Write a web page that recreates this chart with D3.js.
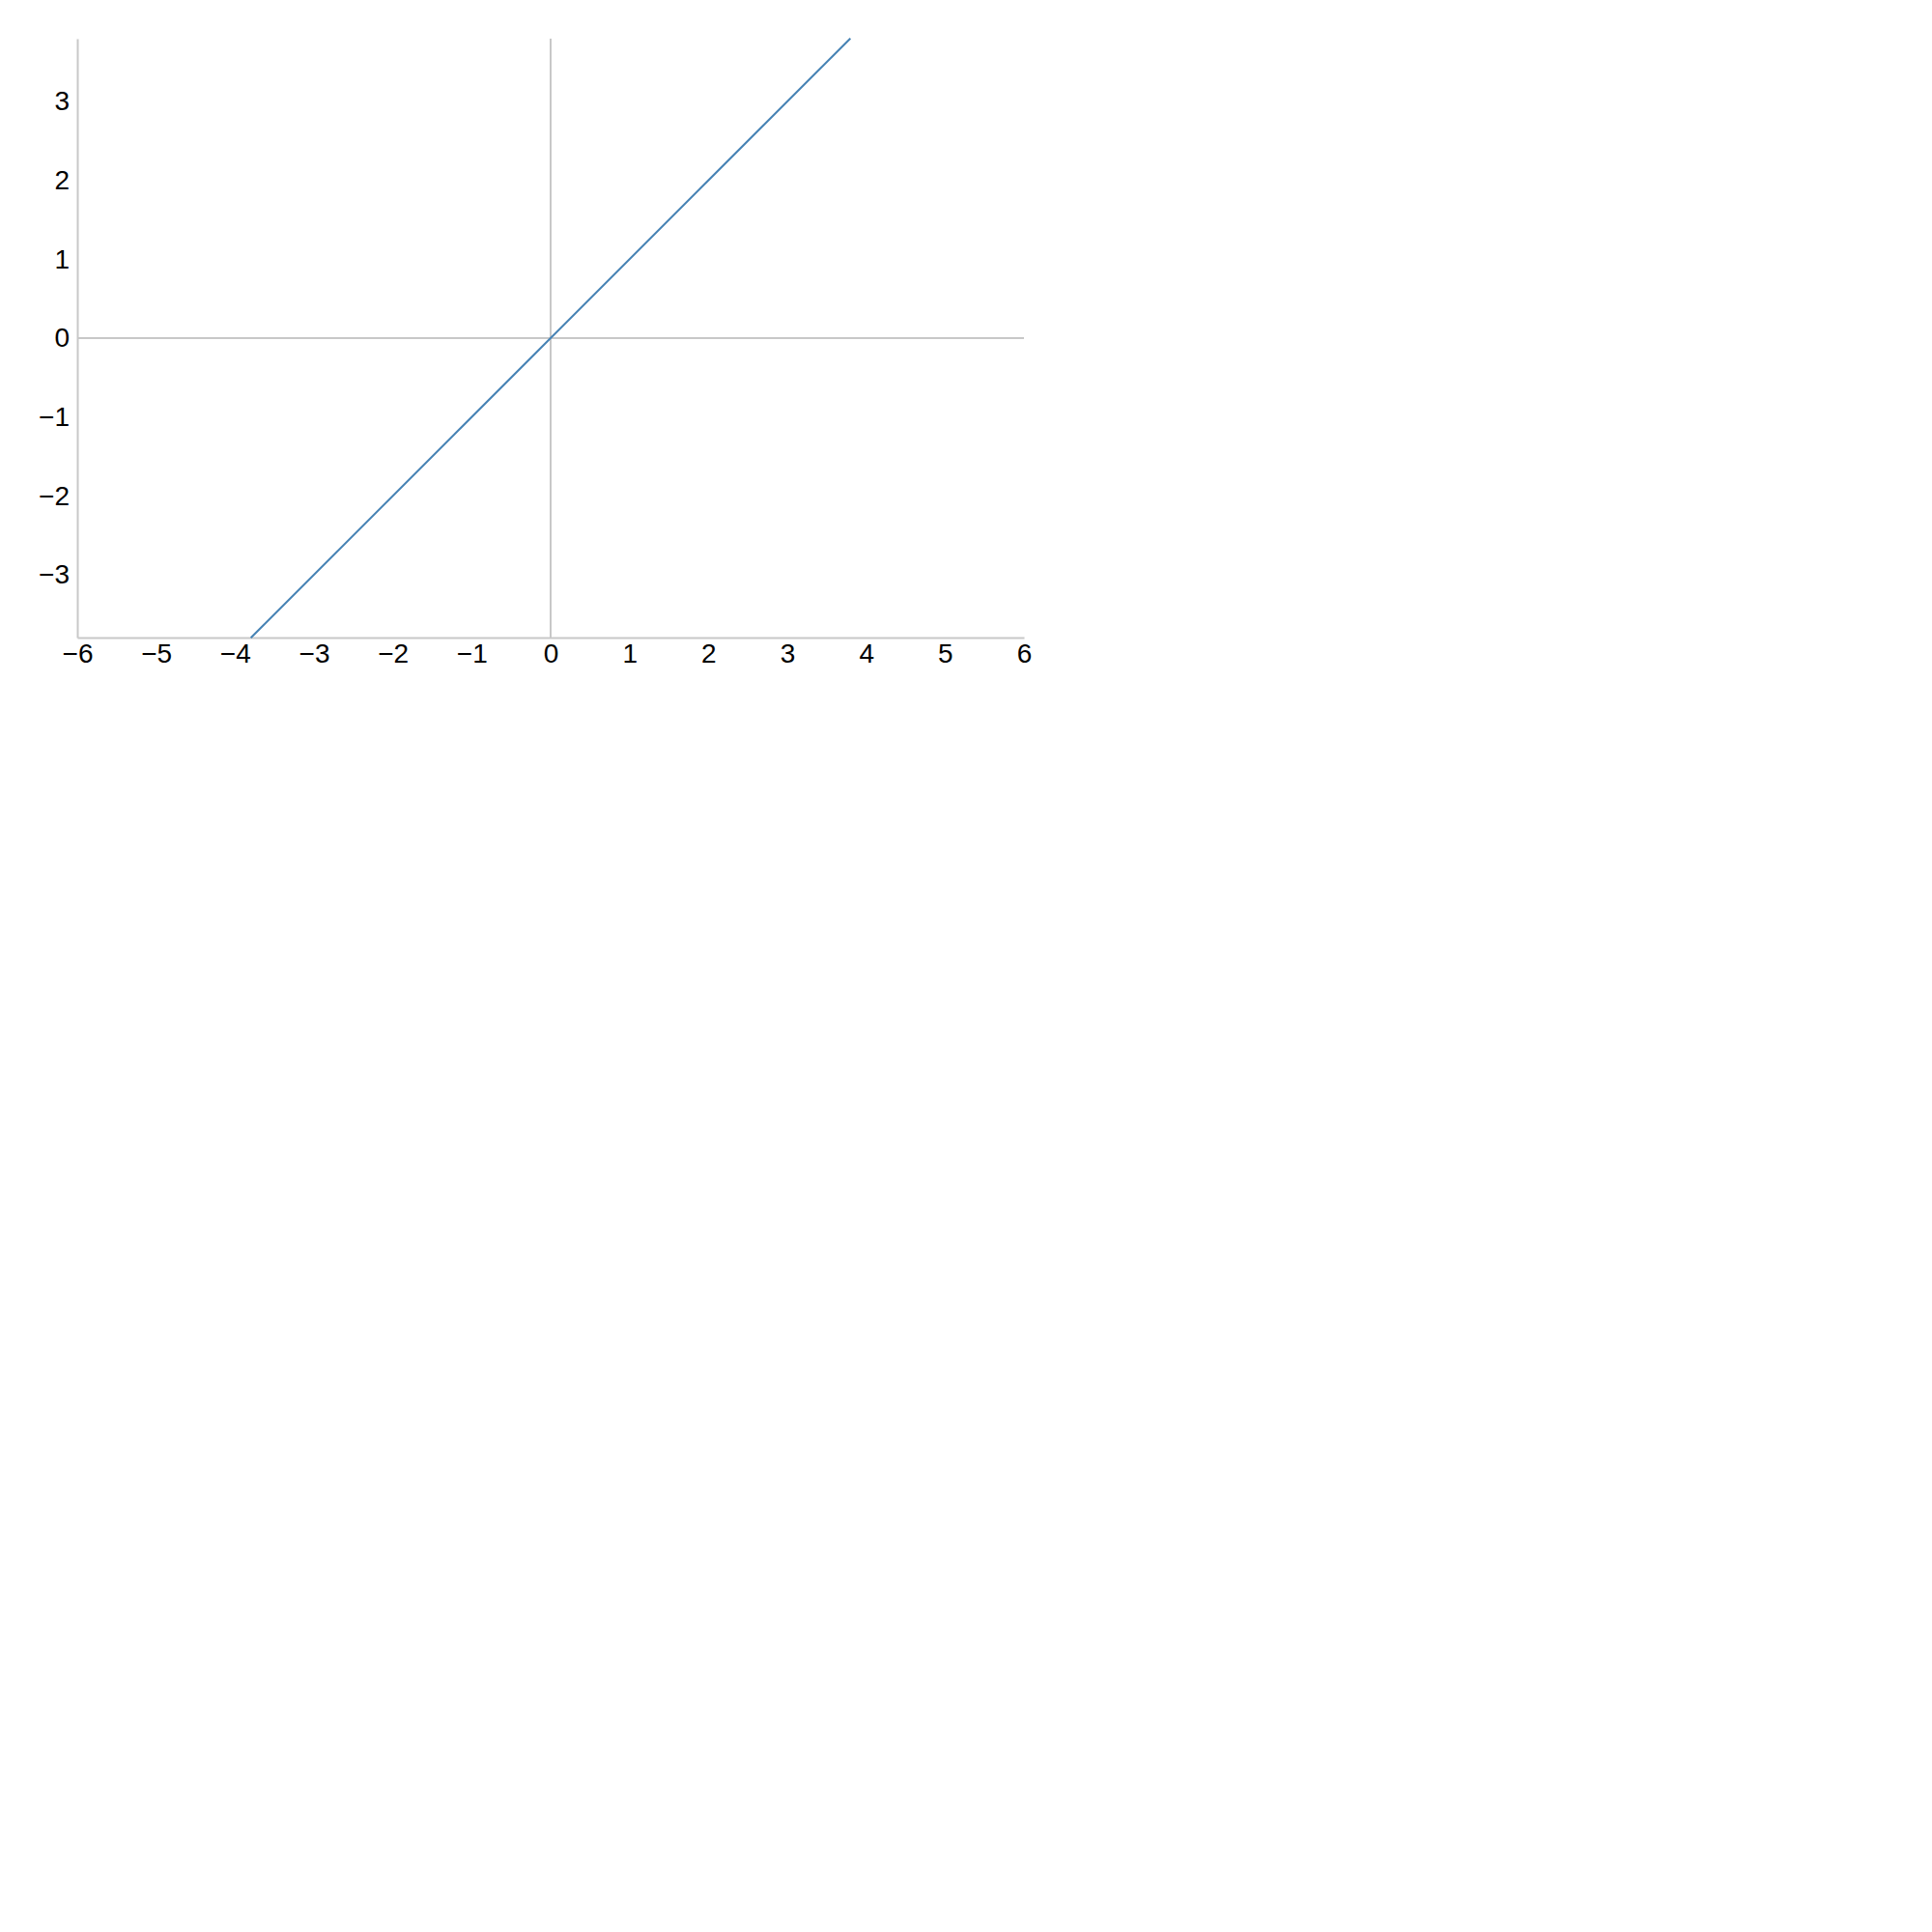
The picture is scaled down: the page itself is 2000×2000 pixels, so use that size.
<!DOCTYPE html>
<html>
<head>
<meta charset="utf-8">
<script src="https://cdn.jsdelivr.net/npm/d3@7"></script>
<style>
  html, body { margin: 0; padding: 0; background: #fff; }
  text { font-family: "Liberation Sans", Arial, Helvetica, sans-serif; }
</style>
</head>
<body>
<svg id="chart" width="2000" height="2000"></svg>
<script>
// Data
const xValues = [-3.8, 3.8];
const yValues = [-3.8, 3.8];
const xTicks = [-6, -5, -4, -3, -2, -1, 0, 1, 2, 3, 4, 5, 6];
const yTicks = [-3, -2, -1, 0, 1, 2, 3];
const xDomain = [-6, 6];
const yDomain = [-3.796, 3.796];

(function () {
const svg = d3.select("#chart");
const mLeft = 80, mRight = 1060, mTop = 40, mBottom = 660;

const x = d3.scaleLinear().domain(xDomain).range([mLeft, mRight]);
const y = d3.scaleLinear().domain(yDomain).range([mBottom, mTop]);

const grey = "#c8c8c8";
const fmt = d => d < 0 ? "\u2212" + Math.abs(d) : String(d);

// x axis
const gx = svg.append("g").attr("transform", `translate(0,${mBottom})`)
  .call(d3.axisBottom(x).tickValues(xTicks).tickSize(0).tickPadding(6).tickFormat(fmt));
gx.select(".domain").attr("stroke", grey).attr("stroke-width", 2);
gx.selectAll("text").attr("font-size", 28).attr("fill", "#000")
  .attr("font-family", '"Liberation Sans", Arial, sans-serif');

// y axis
const gy = svg.append("g").attr("transform", `translate(${mLeft},0)`)
  .call(d3.axisLeft(y).tickValues(yTicks).tickSize(0).tickPadding(8).tickFormat(fmt));
gy.select(".domain").attr("stroke", grey).attr("stroke-width", 2);
gy.selectAll("text").attr("font-size", 28).attr("fill", "#000")
  .attr("font-family", '"Liberation Sans", Arial, sans-serif');

// zero lines
svg.append("line")
  .attr("x1", x(xDomain[0])).attr("x2", x(xDomain[1]))
  .attr("y1", y(0)).attr("y2", y(0))
  .attr("stroke", grey).attr("stroke-width", 2);
svg.append("line")
  .attr("x1", x(0)).attr("x2", x(0))
  .attr("y1", y(yDomain[0])).attr("y2", y(yDomain[1]))
  .attr("stroke", grey).attr("stroke-width", 2);

// data line
const data = xValues.map((v, i) => ({x: v, y: yValues[i]}));
svg.append("path")
  .datum(data)
  .attr("fill", "none")
  .attr("stroke", "#4682b4")
  .attr("stroke-width", 2)
  .attr("d", d3.line().x(d => x(d.x)).y(d => y(d.y)));
})();
</script>
</body>
</html>
